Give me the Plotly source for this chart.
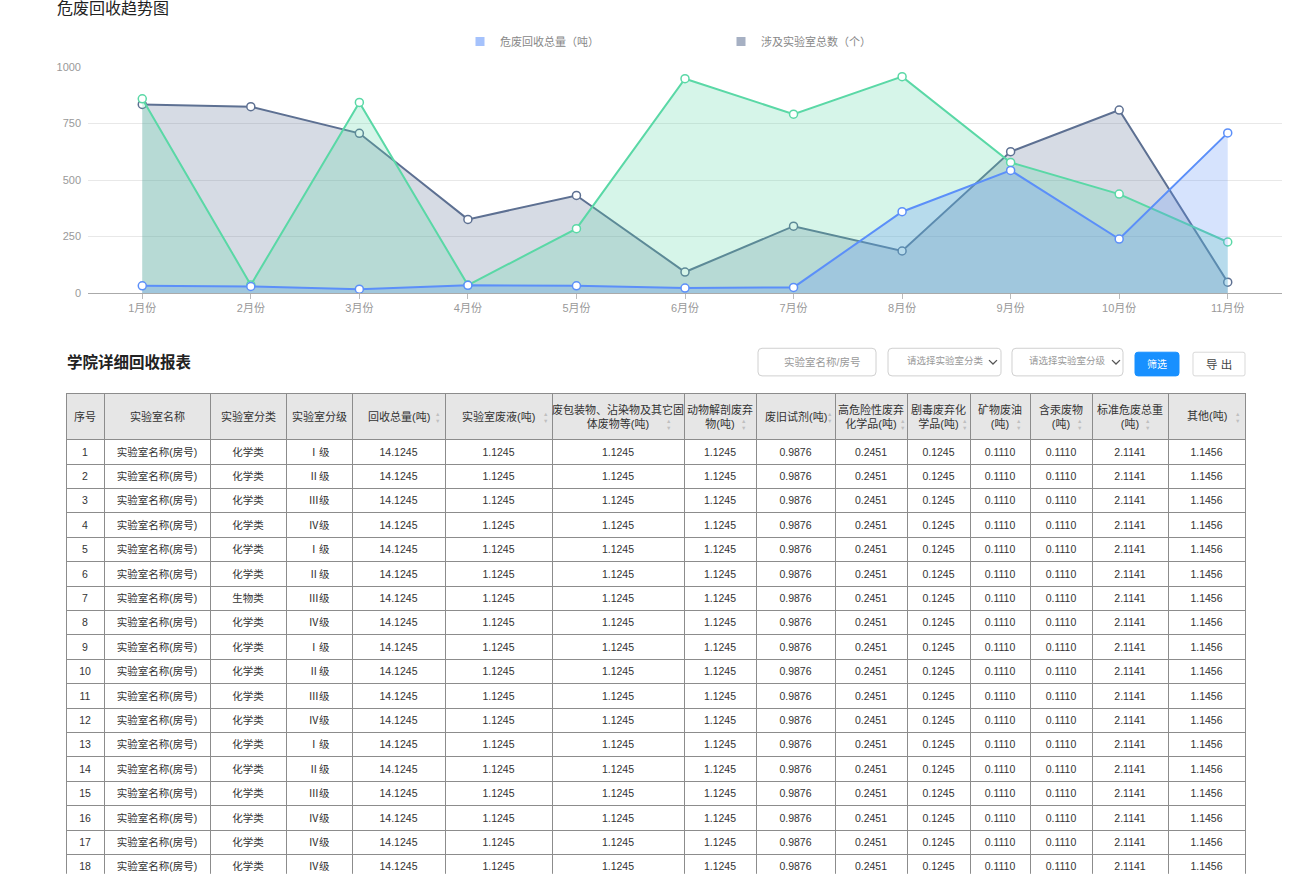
"""危废回收趋势图 + 学院详细回收报表 (Plotly)."""

import plotly.graph_objects as go

W, H = 1315, 880
FONT = "Liberation Sans, Noto Sans CJK SC, sans-serif"

# ---- chart data -------------------------------------------------------------
months = ["1月份", "2月份", "3月份", "4月份", "5月份", "6月份",
          "7月份", "8月份", "9月份", "10月份", "11月份"]
waste_total = [32, 29, 17, 34, 32, 22, 25, 360, 543, 239, 709]
lab_count = [835, 825, 707, 326, 432, 93, 296, 186, 626, 810, 48]
series_green = [860, 36, 844, 35, 285, 949, 792, 958, 578, 438, 226]
y_ticks = [0, 250, 500, 750, 1000]

# ---- table data -------------------------------------------------------------
N_ROWS = 18
row_no = [str(i) for i in range(1, N_ROWS + 1)]
lab_names = ["实验室名称(房号)"] * N_ROWS
lab_types = ["化学类"] * 6 + ["生物类"] + ["化学类"] * 11
lab_grades = ["Ⅰ级", "Ⅱ级", "Ⅲ级", "Ⅳ级", "Ⅰ级", "Ⅱ级", "Ⅲ级", "Ⅳ级", "Ⅰ级",
              "Ⅱ级", "Ⅲ级", "Ⅳ级", "Ⅰ级", "Ⅱ级", "Ⅲ级", "Ⅳ级", "Ⅳ级", "Ⅳ级"]
recycle_total = ["14.1245"] * N_ROWS
lab_liquid = ["1.1245"] * N_ROWS
packaging = ["1.1245"] * N_ROWS
animal = ["1.1245"] * N_ROWS
old_reagent = ["0.9876"] * N_ROWS
high_risk = ["0.2451"] * N_ROWS
toxic = ["0.1245"] * N_ROWS
mineral_oil = ["0.1110"] * N_ROWS
mercury = ["0.1110"] * N_ROWS
standard_total = ["2.1141"] * N_ROWS
others = ["1.1456"] * N_ROWS

headers = [
    "序号", "实验室名称", "实验室分类", "实验室分级",
    "回收总量(吨)",
    "实验室废液(吨)",
    "废包装物、沾染物及其它固<br>体废物等(吨)",
    "动物解剖废弃<br>物(吨)",
    "废旧试剂(吨)",
    "高危险性废弃<br>化学品(吨)",
    "剧毒废弃化<br>学品(吨)",
    "矿物废油<br>(吨)",
    "含汞废物<br>(吨)",
    "标准危废总重<br>(吨)",
    "其他(吨)",
]
sortable = [False] * 4 + [True] * 11

# layout of the table (pixels)
TABLE_LEFT, TABLE_TOP, HEADER_H = 66, 393, 46
col_widths = [38, 106, 76, 66, 93, 107, 132, 72, 79, 72, 63, 60, 62, 76, 77]
# distance of the sort caret from the right edge of its column
sort_offsets = [0, 0, 0, 0, 8, 7, 16, 13, 5, 5, 6, 12, 13, 21, 8]

BLUE = "#5B8FF9"
GREEN = "#5AD8A6"
SLATE = "#5D7092"


def rgba(hex_color: str, alpha: float) -> str:
    h = hex_color.lstrip("#")
    r, g, b = (int(h[i:i + 2], 16) for i in (0, 2, 4))
    return f"rgba({r},{g},{b},{alpha})"


def px_x(v: float) -> float:
    return v / W


def px_y(v: float) -> float:
    return 1 - v / H


def rounded_rect(x0, y0, x1, y1, r):
    """SVG path (paper coords) for a rounded rectangle given in pixels."""
    pts = [
        ("M", (x0 + r, y0)), ("L", (x1 - r, y0)), ("Q", (x1, y0), (x1, y0 + r)),
        ("L", (x1, y1 - r)), ("Q", (x1, y1), (x1 - r, y1)),
        ("L", (x0 + r, y1)), ("Q", (x0, y1), (x0, y1 - r)),
        ("L", (x0, y0 + r)), ("Q", (x0, y0), (x0 + r, y0)),
    ]
    parts = []
    for cmd, *coords in pts:
        parts.append(cmd + " ".join(f"{px_x(x):.5f},{px_y(y):.5f}" for x, y in coords))
    return " ".join(parts) + " Z"


fig = go.Figure()

for name, values, color in [
    ("涉及实验室总数（个）", lab_count, SLATE),
    ("series_green", series_green, GREEN),
    ("危废回收总量（吨）", waste_total, BLUE),
]:
    fig.add_trace(
        go.Scatter(
            x=months,
            y=values,
            name=name,
            mode="lines+markers",
            fill="tozeroy",
            fillcolor=rgba(color, 0.25),
            line=dict(color=color, width=2),
            marker=dict(size=8, color="white", line=dict(color=color, width=1.5)),
            cliponaxis=False,
            showlegend=False,
            legendgroup=name,
        )
    )

# legend squares
for name, color in [("危废回收总量（吨）", BLUE), ("涉及实验室总数（个）", SLATE)]:
    fig.add_trace(
        go.Scatter(
            x=[None], y=[None], mode="markers", name=name, legendgroup=name,
            marker=dict(symbol="square", size=9, color=rgba(color, 0.55)),
        )
    )

fig.add_trace(
    go.Table(
        domain=dict(x=[px_x(TABLE_LEFT), px_x(TABLE_LEFT + sum(col_widths))],
                    y=[0, px_y(TABLE_TOP)]),
        columnwidth=col_widths,
        header=dict(
            values=[""] * len(headers),
            fill_color="#e6e6e6",
            line=dict(color="#8c8c8c", width=1),
            height=HEADER_H,
        ),
        cells=dict(
            values=[row_no, lab_names, lab_types, lab_grades, recycle_total,
                    lab_liquid, packaging, animal, old_reagent, high_risk, toxic,
                    mineral_oil, mercury, standard_total, others],
            fill_color="white",
            line=dict(color="#8c8c8c", width=1),
            align="center",
            font=dict(family=FONT, size=10.5, color="#333"),
            height=24.4,
        ),
    )
)

# ---- filter controls ------------------------------------------------------
shapes = [
    dict(type="path", path=rounded_rect(758, 347, 876, 375, 4),
         line=dict(color="#d0d0d0", width=1), fillcolor="white"),
    dict(type="path", path=rounded_rect(888, 347, 1001, 375, 4),
         line=dict(color="#d0d0d0", width=1), fillcolor="white"),
    dict(type="path", path=rounded_rect(1012, 347, 1123, 375, 4),
         line=dict(color="#d0d0d0", width=1), fillcolor="white"),
    dict(type="path", path=rounded_rect(1135, 351, 1179, 375, 3),
         line=dict(color="#1890ff", width=1), fillcolor="#1890ff"),
    dict(type="path", path=rounded_rect(1193, 351, 1245, 375, 2),
         line=dict(color="#d9d9d9", width=1), fillcolor="white"),
]
for cx in (993, 1116):
    shapes.append(dict(
        type="path",
        path=f"M{px_x(cx - 4):.5f},{px_y(359):.5f} L{px_x(cx):.5f},{px_y(363):.5f} "
             f"L{px_x(cx + 4):.5f},{px_y(359):.5f}",
        line=dict(color="#555", width=1.3),
    ))

annotations = [
    dict(text="危废回收趋势图", x=px_x(55), y=px_y(3), xanchor="left", yanchor="middle",
         font=dict(family=FONT, size=16, color="#222")),
    dict(text="<b>学院详细回收报表</b>", x=px_x(65), y=px_y(361), xanchor="left",
         yanchor="middle", font=dict(family=FONT, size=15.5, color="#222")),
    dict(text="实验室名称/房号", x=px_x(822), y=px_y(361), xanchor="center", yanchor="middle",
         font=dict(family=FONT, size=10.5, color="#999")),
    dict(text="请选择实验室分类", x=px_x(905), y=px_y(359), xanchor="left", yanchor="middle",
         font=dict(family=FONT, size=9.5, color="#999")),
    dict(text="请选择实验室分级", x=px_x(1027), y=px_y(359), xanchor="left", yanchor="middle",
         font=dict(family=FONT, size=9.5, color="#999")),
    dict(text="筛选", x=px_x(1157), y=px_y(363), xanchor="center", yanchor="middle",
         font=dict(family=FONT, size=10, color="white")),
    dict(text="导 出", x=px_x(1219), y=px_y(363), xanchor="center", yanchor="middle",
         font=dict(family=FONT, size=11.5, color="#444")),
]

# table header text (centred vertically in the header row) and sort carets
left = TABLE_LEFT
for text, width, can_sort, off in zip(headers, col_widths, sortable, sort_offsets):
    two_lines = "<br>" in text
    annotations.append(dict(
        text=text, x=px_x(left + width / 2), y=px_y(TABLE_TOP + HEADER_H / 2),
        xanchor="center", yanchor="middle", align="center",
        font=dict(family=FONT, size=11, color="#333"),
    ))
    if can_sort:
        annotations.append(dict(
            text="▲<br>▼", x=px_x(left + width - off),
            y=px_y(TABLE_TOP + (31 if two_lines else 24)),
            xanchor="center", yanchor="middle",
            font=dict(family=FONT, size=5.5, color="#bfbfbf"),
        ))
    left += width

for a in annotations:
    a.update(xref="paper", yref="paper", showarrow=False)
for s in shapes:
    s.update(xref="paper", yref="paper", layer="above")

fig.update_layout(
    width=W,
    height=H,
    margin=dict(l=0, r=0, t=0, b=0),
    paper_bgcolor="white",
    plot_bgcolor="white",
    font=dict(family=FONT, color="#666"),
    shapes=shapes,
    annotations=annotations,
    showlegend=True,
    legend=dict(
        orientation="h",
        x=px_x(460), xanchor="left",
        y=px_y(36), yanchor="middle",
        entrywidth=216, entrywidthmode="pixels",
        font=dict(family=FONT, size=11, color="#888"),
        itemwidth=30,
    ),
    xaxis=dict(
        domain=[px_x(88), px_x(1282)],
        anchor="y",
        range=[-0.5, 10.5],
        showgrid=False,
        showline=True,
        linecolor="#aaa",
        ticks="outside",
        ticklen=5,
        tickcolor="#bbb",
        tickfont=dict(family=FONT, size=11, color="#999"),
        fixedrange=True,
    ),
    yaxis=dict(
        domain=[px_y(291), px_y(62)],
        range=[0, 1000],
        tickvals=y_ticks,
        showgrid=True,
        gridcolor="#e8e8e8",
        zeroline=False,
        showline=False,
        tickfont=dict(family=FONT, size=11, color="#999"),
        ticklabelstandoff=6,
        fixedrange=True,
    ),
)

fig.write_html(
    "out.html",
    config={"displayModeBar": False},
    post_script="document.body.style.margin='0';",
)
